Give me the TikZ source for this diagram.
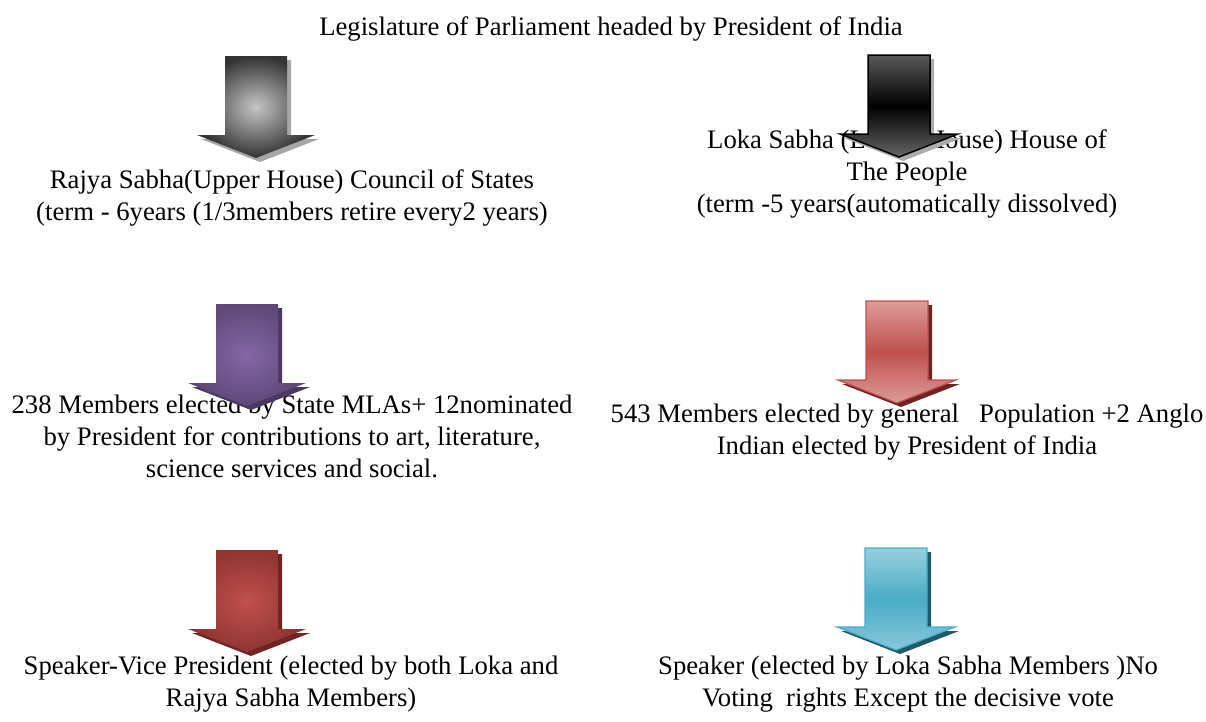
\documentclass[tikz,border=0pt]{standalone}
\usepackage{fontspec}
\setmainfont{Liberation Serif}
\usepackage{xcolor}
\usepackage{tikz}
\usetikzlibrary{positioning}
\definecolor{violetfonce}{HTML}{5E4878}
\definecolor{violetclair}{HTML}{8467A6}
\definecolor{rougeclair}{HTML}{DC9C9A}
\definecolor{rougemoyen}{HTML}{C0504D}
\definecolor{rougefonce}{HTML}{6E2422}
\definecolor{bordeaux}{HTML}{903532}
\definecolor{cyanclair}{HTML}{96CFDE}
\definecolor{cyanmoyen}{HTML}{4BACC6}
\definecolor{cyanfonce}{HTML}{215968}

% block arrow pointing down, #1 = top centre, #2 = style
\newcommand{\flecheBloc}[2]{%
  \path[#2] (#1) ++(-31,0) -- ++(62,0) -- ++(0,79) -- ++(28,0)
    -- ++(-59,23) -- ++(-59,-23) -- ++(28,0) -- cycle;}

\begin{document}
\begin{tikzpicture}[x=1pt,y=-1pt]
                \tikzset{
                  texte/.style={align=center,inner sep=0pt,
                    font=\fontsize{26.7}{32}\selectfont},
                  fleche/.style={line join=miter},
                  ombre/.style={preaction={fill=#1,transform canvas={shift={(4,4)}}}},
                  fleche grise/.style={fleche,ombre=gray!70,
                    inner color=gray!45,outer color=black!80},
                  fleche noire/.style={fleche,ombre=gray!65,draw=black,line width=1.5pt,
                    top color=black!65,bottom color=black!60,middle color=black},
                  fleche violette/.style={fleche,ombre=violetfonce!80!black,
                    inner color=violetclair,outer color=violetfonce},
                  fleche rouge/.style={fleche,ombre=rougefonce,draw=rougemoyen,line width=1.2pt,
                    top color=rougeclair,bottom color=rougeclair,middle color=rougemoyen},
                  fleche bordeaux/.style={fleche,ombre=rougefonce,
                    inner color=rougemoyen,outer color=bordeaux},
                  fleche cyan/.style={fleche,ombre=cyanfonce,draw=cyanmoyen,line width=1.2pt,
                    top color=cyanclair,bottom color=cyanclair!80!cyanmoyen,middle color=cyanmoyen},
                  }
                \useasboundingbox (0,0) rectangle (1206,721);

                \node[texte] (titre) at (611,29) {Legislature of Parliament headed by President of India};
                \node[texte] (rajya) at (292,198) {Rajya Sabha(Upper House) Council of States\\(term - 6years (1/3members retire every2 years)};
                \node[texte] (loka) at (907,174) {Loka Sabha (Lower House) House of\\The People\\(term -5 years(automatically dissolved)};
                \node[texte] (rajyaMembres) at (292,436) {238 Members elected by State MLAs+ 12nominated\\by President for contributions to art, literature,\\science services and social.};
                \node[texte] (lokaMembres) at (907,432) {543 Members elected by general\ \ \ Population +2 Anglo\\Indian elected by President of India};
                \node[texte] (rajyaSpeaker) at (291,684) {Speaker-Vice President (elected by both Loka and\\Rajya Sabha Members)};
                \node[texte] (lokaSpeaker) at (908,684) {Speaker (elected by Loka Sabha Members )No\\Voting\ \ rights Except the decisive vote};

                % arrows sit on top of the text
                \coordinate (f1) at (256,56);
                \coordinate (f2) at (899,55);
                \coordinate (f3) at (247,304);
                \coordinate (f4) at (897,301);
                \coordinate (f5) at (247,550);
                \coordinate (f6) at (896,548);
                \flecheBloc{f1}{fleche grise}
                \flecheBloc{f2}{fleche noire}
                \flecheBloc{f3}{fleche violette}
                \flecheBloc{f4}{fleche rouge}
                \flecheBloc{f5}{fleche bordeaux}
                \flecheBloc{f6}{fleche cyan}
              \end{tikzpicture}
\end{document}
